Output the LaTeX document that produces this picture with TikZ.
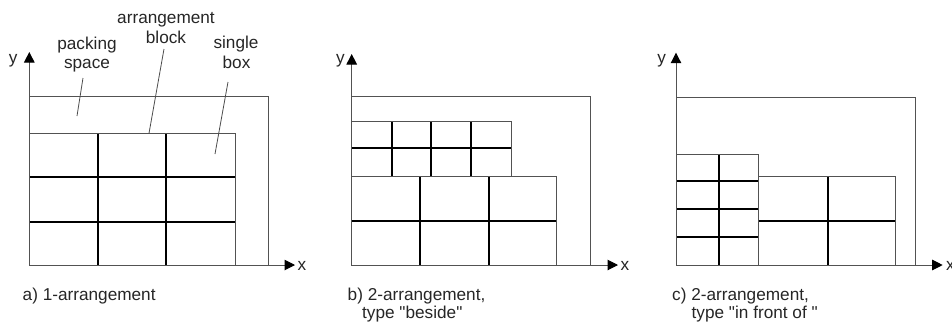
\documentclass[tikz,border=0pt]{standalone}
\usepackage{fontspec}
\newfontfamily\lsans{Liberation Sans}
\usetikzlibrary{arrows.meta}
\begin{document}
\begin{tikzpicture}[x=1pt,y=-1pt,
  outer/.style={draw=black!68, line width=1pt},
  gridl/.style={draw=black, line width=2pt},
  axis/.style={draw=black!68, line width=1pt, -{Triangle[length=10.5pt,width=10.5pt,color=black]}},
  lbl/.style={font=\lsans\fontsize{17.2}{20}\selectfont, inner sep=0pt, anchor=base, text=black!85},
  lblw/.style={lbl, anchor=base west},
  leader/.style={draw=black!70, line width=0.8pt}]
\useasboundingbox (0,0) rectangle (952,322);

% ---------- panel a ----------
\coordinate (oa) at (29.3,265);
\coordinate (ya) at (29.3,52);
\coordinate (xa) at (295,265);
\draw[gridl] (97.7,133.3) -- (97.7,265) (165.7,133.3) -- (165.7,265)
             (29.3,176.7) -- (235,176.7) (29.3,221.7) -- (235,221.7);
\draw[outer] (29.3,133.3) rectangle (235,265);
\draw[outer] (29.3,96.7) -| (268.3,265);
\draw[axis] (oa) -- (ya);
\draw[axis] (oa) -- (xa);
\node[lbl] (yla) at (13.3,63.3) {y};
\node[lblw] (xla) at (297.5,270.7) {x};
\node[lbl] (ps1) at (87,49.5) {packing};
\node[lbl] (ps2) at (87,68.3) {space};
\node[lbl] (ab1) at (166,23.3) {arrangement};
\node[lbl] (ab2) at (166,43.3) {block};
\node[lbl] (sb1) at (236,48.5) {single};
\node[lbl] (sb2) at (236.5,68.3) {box};
\coordinate (psS) at (83,78);
\coordinate (psT) at (77,116);
\coordinate (abS) at (164,49);
\coordinate (abT) at (149,133.3);
\coordinate (sbS) at (228,82);
\coordinate (sbT) at (215,154);
\draw[leader] (psS) -- (psT);
\draw[leader] (abS) -- (abT);
\draw[leader] (sbS) -- (sbT);
\node[lblw] (capa) at (22.5,300.5) {a) 1-arrangement};

% ---------- panel b ----------
\coordinate (ob) at (351.7,265);
\coordinate (yb) at (351.7,54);
\coordinate (xb) at (618,265);
\draw[gridl] (391.7,121) -- (391.7,176.7) (431,121) -- (431,176.7) (471,121) -- (471,176.7)
             (351.7,148.3) -- (511,148.3);
\draw[gridl] (420,176.7) -- (420,265) (489,176.7) -- (489,265)
             (351.7,221) -- (556.7,221);
\draw[outer] (351.7,121) rectangle (511,176.7);
\draw[outer] (351.7,176.7) rectangle (556.7,265);
\draw[outer] (351.7,96.7) -| (590.7,265);
\draw[axis] (ob) -- (yb);
\draw[axis] (ob) -- (xb);
\node[lbl] (ylb) at (340.5,63.3) {y};
\node[lblw] (xlb) at (620.5,270.7) {x};
\node[lblw] (capb1) at (347.5,300.5) {b) 2-arrangement,};
\node[lblw] (capb2) at (362,318) {type "beside"};

% ---------- panel c ----------
\coordinate (oc) at (676,265);
\coordinate (yc) at (676,52.7);
\coordinate (xc) at (942.7,265);
\draw[gridl] (719,154) -- (719,265)
             (676,181) -- (758.7,181) (676,209) -- (758.7,209) (676,237) -- (758.7,237);
\draw[gridl] (828,176.7) -- (828,265) (758.7,221) -- (895.3,221);
\draw[outer] (676,154) rectangle (758.7,265);
\draw[outer] (758.7,176.7) rectangle (895.3,265);
\draw[outer] (676,97.3) -| (915,265);
\draw[axis] (oc) -- (yc);
\draw[axis] (oc) -- (xc);
\node[lbl] (ylc) at (661.7,63.3) {y};
\node[lblw] (xlc) at (946,270.7) {x};
\node[lblw] (capc1) at (672,300.5) {c) 2-arrangement,};
\node[lblw] (capc2) at (691.5,318) {type "in front of "};
\end{tikzpicture}
\end{document}
